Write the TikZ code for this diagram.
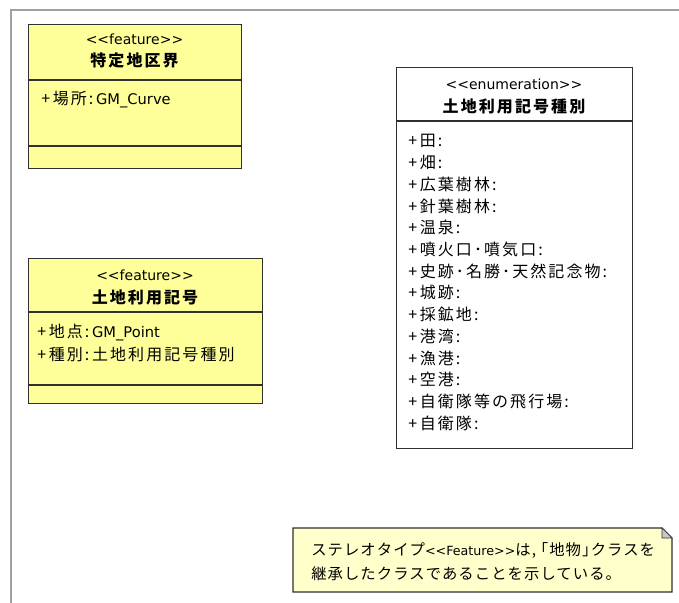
\documentclass[tikz,border=0pt]{standalone}
\usepackage{fontspec}
\setmainfont{DejaVu Sans}
\newfontfamily\jp[LetterSpace=13]{Noto Sans CJK JP}
\newfontfamily\jpnote[LetterSpace=7]{Noto Sans CJK JP}
\newfontfamily\lat{DejaVu Sans}
\definecolor{featfill}{HTML}{FFFF99}
\definecolor{notefill}{HTML}{FFFFCC}
\definecolor{framegray}{HTML}{A0A0A0}
\definecolor{edge}{HTML}{303030}
\begin{document}
\begin{tikzpicture}[x=0.75pt,y=-0.75pt,
  cls/.style={draw=edge, line width=0.8pt, inner sep=0pt, anchor=north west},
  divider/.style={draw=edge, line width=0.8pt},
  stereo/.style={inner sep=0pt, font=\lat\fontsize{10.5}{12}\selectfont},
  cname/.style={inner sep=0pt, font=\jp\bfseries\fontsize{12}{14}\selectfont},
  attr/.style={inner sep=0pt, anchor=west, font=\jp\fontsize{12}{14}\selectfont},
  latin/.style={font=\lat\fontsize{11}{13}\selectfont},
  notetext/.style={inner sep=0pt, anchor=west, font=\jpnote\fontsize{11.5}{13}\selectfont},
  frameline/.style={draw=framegray, line width=1.6pt}]
\useasboundingbox (0,0) rectangle (679,603);
% outer frame
\draw[frameline] (11,603) -- (11,10) -- (679,10);

% class 1
\node[cls, fill=featfill, minimum width=159.75pt, minimum height=108pt] (b1) at (28,24) {};
\draw[divider] ([yshift=-42pt]b1.north west) -- ([yshift=-42pt]b1.north east);
\draw[divider] ([yshift=-91.5pt]b1.north west) -- ([yshift=-91.5pt]b1.north east);
\node[stereo] (b1s) at (134.5,39) {<{}<feature>{}>};
\node[cname] (b1n) at (134.5,60) {特定地区界};
\node[attr] (b1a) at (41,100) {+\,場所:\,{\lat\fontsize{11}{13}\selectfont GM\_Curve}};

% class 2
\node[cls, fill=featfill, minimum width=175.5pt, minimum height=108.75pt] (b2) at (28,258) {};
\draw[divider] ([yshift=-40.5pt]b2.north west) -- ([yshift=-40.5pt]b2.north east);
\draw[divider] ([yshift=-95.25pt]b2.north west) -- ([yshift=-95.25pt]b2.north east);
\node[stereo] (b2s) at (145,275) {<{}<feature>{}>};
\node[cname] (b2n) at (145,297) {土地利用記号};
\node[attr] (b2a1) at (37,333) {+\,地点:\,{\lat\fontsize{11}{13}\selectfont GM\_Point}};
\node[attr] (b2a2) at (37,354) {+\,種別:\,土地利用記号種別};

% enumeration
\node[cls, fill=white, minimum width=177pt, minimum height=285.75pt] (b3) at (396,67) {};
\draw[divider] ([yshift=-40.5pt]b3.north west) -- ([yshift=-40.5pt]b3.north east);
\node[stereo] (b3s) at (514,84) {<{}<enumeration>{}>};
\node[cname] (b3n) at (514,106) {土地利用記号種別};
\foreach \t [count=\i] in {田, 畑, 広葉樹林, 針葉樹林, 温泉, 噴火口･噴気口, 史跡･名勝･天然記念物, 城跡, 採鉱地, 港湾, 漁港, 空港, 自衛隊等の飛行場, 自衛隊}
  \node[attr] (b3i\i) at (408,{141+21.7*(\i-1)}) {+\,\t:};

% note
\draw[draw=edge, line width=0.8pt, fill=notefill] (293,528) -- (662,528) -- (672,538) -- (672,592) -- (293,592) -- cycle;
\draw[draw=edge, line width=0.5pt, fill=black!22] (662,528) -- (662,538) -- (672,538) -- cycle;
\node[notetext] (n1) at (311,550) {ステレオタイプ{\lat\fontsize{9.5}{11}\selectfont <{}<Feature>{}>}は, ｢地物｣クラスを};
\node[notetext] (n2) at (311,574) {継承したクラスであることを示している。};
\end{tikzpicture}
\end{document}
